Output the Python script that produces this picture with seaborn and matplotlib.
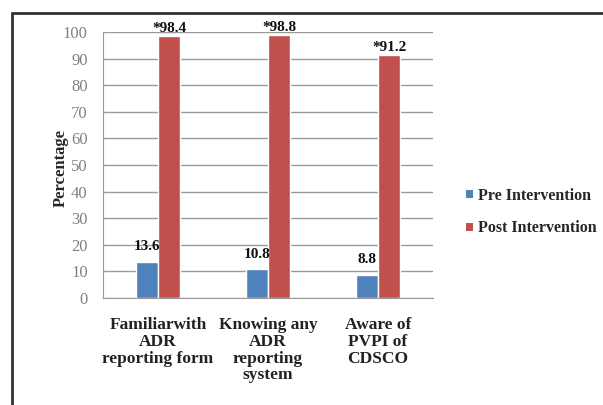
import matplotlib
matplotlib.use("Agg")
import matplotlib.pyplot as plt
import seaborn as sns
import pandas as pd
from matplotlib.lines import Line2D
from matplotlib.patches import Patch

categories = ["Familiarwith\nADR\nreporting form", "Knowing any\nADR\nreporting\nsystem", "Aware of\nPVPI of\nCDSCO"]
series = ["Pre Intervention", "Post Intervention"]
pre_values = [13.6, 10.8, 8.8]
post_values = [98.4, 98.8, 91.2]
pre_labels = ["13.6", "10.8", "8.8"]
post_labels = ["*98.4", "*98.8", "*91.2"]
yticks = [0, 10, 20, 30, 40, 50, 60, 70, 80, 90, 100]

sns.set_style("white")
plt.rcParams['font.family'] = ['Liberation Serif', 'DejaVu Serif']

df = pd.DataFrame({
    "category": categories * 2,
    "series": [series[0]] * 3 + [series[1]] * 3,
    "value": pre_values + post_values,
})

colors = ["#4F81BD", "#C0504D"]
fig = plt.figure(figsize=(6.03, 4.05), dpi=100)
ax = fig.add_axes([103/603, 1-298/405, 330/603, 266/405])

sns.barplot(data=df, x="category", y="value", hue="series", palette=colors,
            width=0.4, gap=0, ax=ax, saturation=1, legend=False, errorbar=None)

ax.set_ylim(0, 100)
ax.set_xlim(-0.5, 2.5)
ax.set_yticks(yticks)
ax.yaxis.grid(True, color="#9a9a9a", linewidth=1)
ax.set_axisbelow(True)
for s in ["top", "right"]:
    ax.spines[s].set_visible(False)
ax.spines["left"].set_color("#9a9a9a")
ax.spines["bottom"].set_color("#9a9a9a")
ax.tick_params(axis="y", colors="#8a8a8a", labelsize=12, length=6, width=1, direction="out", pad=5)
ax.tick_params(axis="x", length=0, pad=14)
for t in ax.get_yticklabels():
    t.set_color("#808080")
for t in ax.get_xticklabels():
    t.set_fontweight("bold")
    t.set_fontsize(12.5)
    t.set_color("#222222")
    t.set_linespacing(1.05)
ax.set_xlabel("")
ax.set_ylabel("Percentage", fontsize=12, fontweight="bold")
ax.yaxis.set_label_coords(-0.103, 0.49)

for cont, labs in zip(ax.containers, [pre_labels, post_labels]):
    ax.bar_label(cont, labels=labs, padding=6 if labs is pre_labels else 1,
                 fontsize=11, fontweight="bold", color="#111111")

handles = [Patch(facecolor=c, edgecolor="none") for c in colors]
fig.legend(handles, series, loc="center left", bbox_to_anchor=(452/603, 1-212/405),
           frameon=False, prop={"weight": "bold", "size": 11.5},
           handlelength=0.4, handleheight=0.4, handletextpad=0.3, labelspacing=1.05)

# outer frame
fig.add_artist(Line2D([12/603, 12/603], [0, 1-13/405], color="#333333", linewidth=2, transform=fig.transFigure))
fig.add_artist(Line2D([12/603, 1], [1-13/405, 1-13/405], color="#333333", linewidth=2, transform=fig.transFigure))

fig.savefig("out.png", dpi=100)
